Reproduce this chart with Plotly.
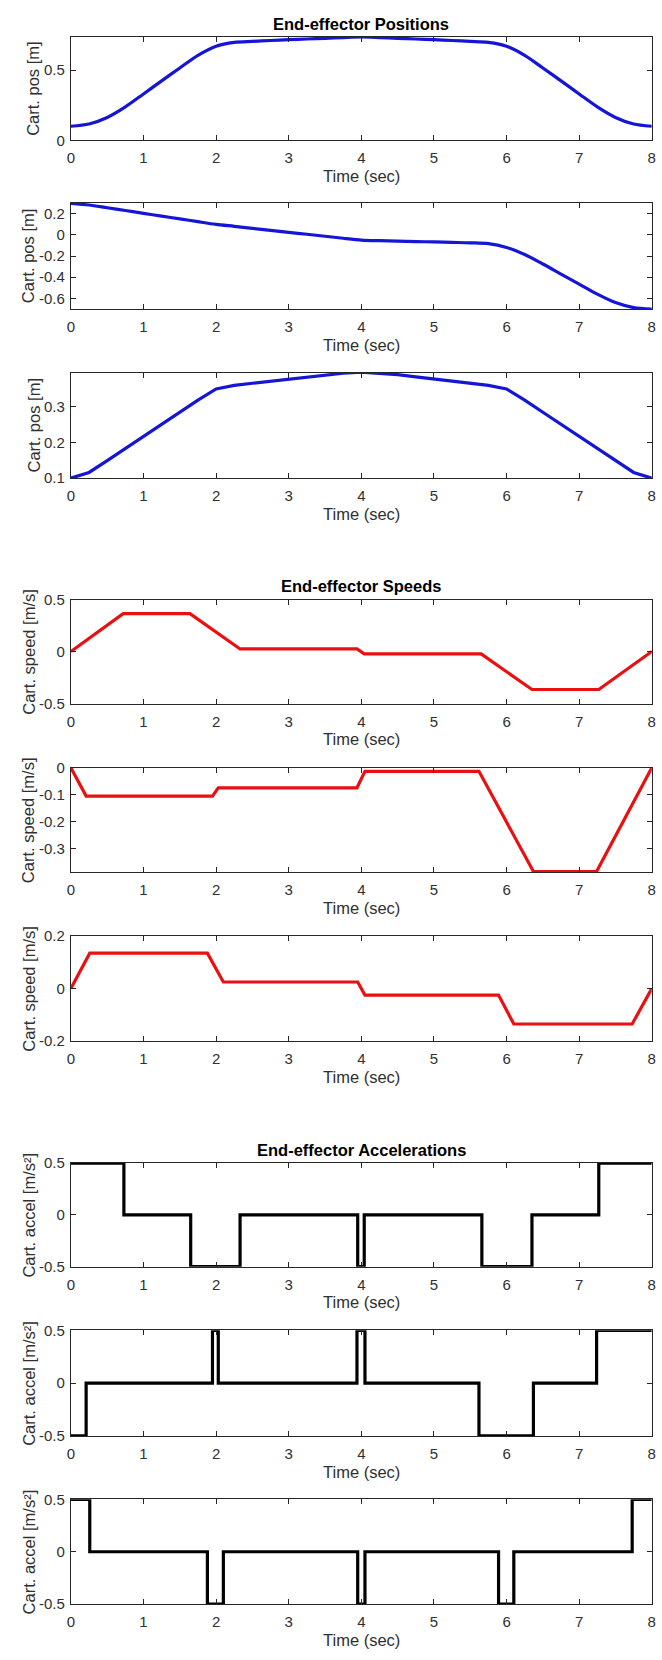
import plotly.graph_objects as go

# ---------------- data ----------------
pos_t = [0.0, 0.25, 0.5, 0.75, 1.0, 1.25, 1.5, 1.75, 2.0, 2.25, 2.5, 2.75, 3.0, 3.25, 3.5, 3.75,
         4.0, 4.25, 4.5, 4.75, 5.0, 5.25, 5.5, 5.75, 6.0, 6.25, 6.5, 6.75, 7.0, 7.25, 7.5, 7.75, 8.0]
pos_x = [0.100, 0.116, 0.163, 0.238, 0.330, 0.423, 0.515, 0.605, 0.670, 0.697, 0.704, 0.710, 0.716,
         0.721, 0.726, 0.731, 0.735, 0.731, 0.726, 0.721, 0.716, 0.710, 0.704, 0.697, 0.670, 0.605,
         0.515, 0.423, 0.330, 0.238, 0.163, 0.116, 0.100]
pos_y = [0.300, 0.284, 0.258, 0.232, 0.205, 0.179, 0.153, 0.126, 0.100, 0.082, 0.063, 0.044, 0.025,
         0.007, -0.012, -0.031, -0.048, -0.054, -0.058, -0.062, -0.066, -0.070, -0.074, -0.082,
         -0.118, -0.185, -0.275, -0.370, -0.465, -0.560, -0.640, -0.688, -0.703]
pos_z = [0.100, 0.116, 0.149, 0.183, 0.217, 0.250, 0.284, 0.318, 0.349, 0.359, 0.365, 0.371, 0.377,
         0.383, 0.389, 0.393, 0.396, 0.393, 0.389, 0.383, 0.377, 0.371, 0.365, 0.359, 0.349, 0.318,
         0.284, 0.250, 0.217, 0.183, 0.149, 0.116, 0.100]

vx_t = [0, 0.72, 1.64, 2.33, 3.94, 4.04, 5.65, 6.35, 7.27, 8]
vx = [0, 0.365, 0.365, 0.025, 0.025, -0.023, -0.023, -0.365, -0.365, 0]
vy_t = [0, 0.21, 1.95, 2.03, 3.94, 4.05, 5.62, 6.37, 7.24, 8]
vy = [0, -0.105, -0.105, -0.074, -0.074, -0.013, -0.013, -0.385, -0.385, 0]
vz_t = [0, 0.26, 1.88, 2.10, 3.95, 4.05, 5.89, 6.10, 7.73, 8]
vz = [0, 0.135, 0.135, 0.025, 0.025, -0.025, -0.025, -0.135, -0.135, 0]

ax_t = [0, 0.73, 1.65, 2.33, 3.95, 4.04, 5.66, 6.35, 7.27, 8]
ax_v = [0.5, 0, -0.5, 0, -0.5, 0, -0.5, 0, 0.5, 0.5]
ay_t = [0, 0.21, 1.95, 2.03, 3.94, 4.05, 5.62, 6.37, 7.24, 8]
ay_v = [-0.5, 0, 0.5, 0, 0.5, 0, -0.5, 0, 0.5, 0.5]
az_t = [0, 0.26, 1.88, 2.10, 3.95, 4.05, 5.89, 6.10, 7.73, 8]
az_v = [0.5, 0, -0.5, 0, -0.5, 0, -0.5, 0, 0.5, 0.5]

x_ticks = [0, 1, 2, 3, 4, 5, 6, 7, 8]
x_ticktext = ["0", "1", "2", "3", "4", "5", "6", "7", "8"]

y_ranges = [[0, 0.735], [-0.703, 0.306], [0.1, 0.395],
            [-0.5, 0.5], [-0.387, 0.0], [-0.2, 0.2],
            [-0.5, 0.5], [-0.5, 0.5], [-0.5, 0.5]]
y_ticks = [[0, 0.5], [-0.6, -0.4, -0.2, 0, 0.2], [0.1, 0.2, 0.3],
           [-0.5, 0, 0.5], [-0.3, -0.2, -0.1, 0], [-0.2, 0, 0.2],
           [-0.5, 0, 0.5], [-0.5, 0, 0.5], [-0.5, 0, 0.5]]
y_ticktext = [["0", "0.5"], ["-0.6", "-0.4", "-0.2", "0", "0.2"], ["0.1", "0.2", "0.3"],
              ["-0.5", "0", "0.5"], ["-0.3", "-0.2", "-0.1", "0"], ["-0.2", "0", "0.2"],
              ["-0.5", "0", "0.5"], ["-0.5", "0", "0.5"], ["-0.5", "0", "0.5"]]

titles = ["End-effector Positions", "End-effector Speeds", "End-effector Accelerations"]
y_labels = ["Cart. pos [m]", "Cart. speed [m/s]", "Cart. accel [m/s²]"]
x_label = "Time (sec)"

# ---------------- layout geometry (pixels) ----------------
W, H = 662, 1660
X0, X1 = 67.7, 655.7
boxes = [(28.3, 132.7), (195.7, 303.3), (367.3, 474.0),
         (596.7, 701.7), (766.7, 872.0), (936.7, 1042.7),
         (1166.0, 1270.7), (1335.0, 1441.7), (1505.7, 1611.7)]
ylab_x = [29.5, 24.5, 30.5, 24.5, 24.5, 24.5, 25.0, 25.0, 25.0]

TXT = "#303030"
FONT = "Liberation Sans, Arial, Helvetica, sans-serif"

series = [
    (pos_t, pos_x, "#1515d8", "spline"),
    (pos_t, pos_y, "#1515d8", "spline"),
    (pos_t, pos_z, "#1515d8", "linear"),
    (vx_t, vx, "#e81010", "linear"),
    (vy_t, vy, "#e81010", "linear"),
    (vz_t, vz, "#e81010", "linear"),
    (ax_t, ax_v, "#000000", "hv"),
    (ay_t, ay_v, "#000000", "hv"),
    (az_t, az_v, "#000000", "hv"),
]

fig = go.Figure()
layout = dict(width=W, height=H, margin=dict(l=0, r=0, t=0, b=0),
              paper_bgcolor="white", plot_bgcolor="white", showlegend=False,
              font=dict(family=FONT, color=TXT))
annotations = []

def py(p):
    return 1 - p / H

for i, (xs, ys, col, shape) in enumerate(series):
    n = i + 1
    xa = "x" if n == 1 else f"x{n}"
    ya = "y" if n == 1 else f"y{n}"
    line = dict(color=col, width=3.2, shape=shape)
    if shape == "spline":
        line["smoothing"] = 0.8
    fig.add_trace(go.Scatter(x=xs, y=ys, mode="lines", line=line,
                             xaxis=xa, yaxis=ya, cliponaxis=False, hoverinfo="skip"))
    top, bot = boxes[i]
    common = dict(showline=True, linecolor="#262626", linewidth=1, mirror="ticks",
                  ticks="inside", ticklen=5, tickwidth=1, tickcolor="#262626",
                  showgrid=False, zeroline=False,
                  tickfont=dict(family=FONT, size=15, color=TXT))
    layout["xaxis" if n == 1 else f"xaxis{n}"] = dict(
        common, domain=[X0 / W, X1 / W], anchor=ya, range=[0, 8],
        tickmode="array", tickvals=x_ticks, ticktext=x_ticktext, ticklabelstandoff=4)
    layout["yaxis" if n == 1 else f"yaxis{n}"] = dict(
        common, domain=[py(bot), py(top)], anchor=xa, range=y_ranges[i],
        tickmode="array", tickvals=y_ticks[i], ticktext=y_ticktext[i], ticklabelstandoff=2)
    # axis titles
    annotations.append(dict(text=x_label, x=(X0 + X1) / 2 / W, y=py(bot + 36),
                            xref="paper", yref="paper", xanchor="center", yanchor="middle",
                            showarrow=False, font=dict(family=FONT, size=16.5, color=TXT)))
    annotations.append(dict(text=y_labels[i // 3], x=ylab_x[i] / W, y=py((top + bot) / 2),
                            xref="paper", yref="paper", xanchor="center", yanchor="middle",
                            textangle=-90, showarrow=False,
                            font=dict(family=FONT, size=16.5, color=TXT)))
    if i % 3 == 0:
        annotations.append(dict(text=titles[i // 3], x=(X0 + X1) / 2 / W,
                                y=py(top - 13.5), xref="paper", yref="paper",
                                xanchor="center", yanchor="middle", showarrow=False,
                                font=dict(family=FONT, size=16.5, color="#000000",
                                          weight="bold")))

layout["annotations"] = annotations
fig.update_layout(**layout)
fig.write_html("out.html")
